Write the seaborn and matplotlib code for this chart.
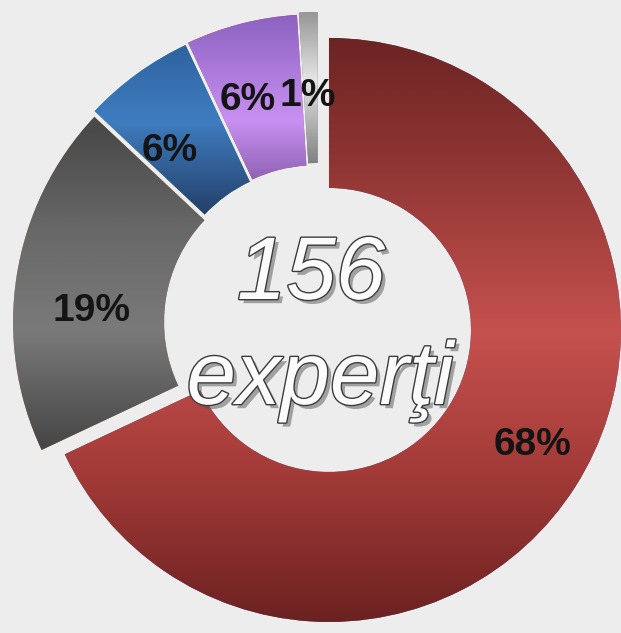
import matplotlib
matplotlib.use('Agg')
import matplotlib.pyplot as plt
import matplotlib.patheffects as pe
from matplotlib.colors import LinearSegmentedColormap
import numpy as np
import seaborn as sns

# values
shares = [68, 19, 6, 6, 1]
labels = ['68%', '19%', '6%', '6%', '1%']
total_text = '156'
unit_text = 'experţi'

# vertical colour ramps for each slice (image pixel row, colour)
ramps = [
    [(30, '#6a2322'), (160, '#8e3533'), (330, '#c5514e'), (470, '#a43b38'), (630, '#692020')],
    [(130, '#4a4a4a'), (230, '#686868'), (330, '#7a7a7a'), (470, '#3c3c3c')],
    [(45, '#2f62a0'), (120, '#3f7dc0'), (215, '#233f68')],
    [(15, '#8c62c0'), (120, '#c890f2'), (180, '#8e62b4')],
    [(15, '#9a9a9a'), (80, '#e6e6e6'), (165, '#7e7e7e')],
]
explode_px = [13, 5, 8, 9, 11]
label_r = [0.80, 0.74, 0.73, 0.75, 0.72]
label_turn = [3, 6, 5, 3.2, 0.8]

W, H = 621, 633
R = 300          # outer radius of the small slices
RING = 151
R_BIG = 292      # the exploded red slice is drawn a bit smaller
RING_BIG = 150
cx, cy = 318, H - 323
BG = '#ededed'

sns.set_theme(style='white')
plt.rcParams['font.family'] = ['Liberation Sans', 'DejaVu Sans']

fig = plt.figure(figsize=(W / 100, H / 100), dpi=100, facecolor=BG)
ax = fig.add_axes([0, 0, 1, 1])
ax.set_facecolor(BG)

# explode is an absolute offset in data units
wedges, _ = ax.pie(shares, radius=R, center=(cx, cy), startangle=90,
                   counterclock=False, explode=explode_px,
                   wedgeprops=dict(width=RING, linewidth=0))
wedges[0].set_radius(R_BIG)
wedges[0].set_width(RING_BIG)

# gradient fill clipped to every wedge
rows_px = np.arange(H)
for wedge, ramp in zip(wedges, ramps):
    rows = [p for p, c in ramp]
    cols = [c for p, c in ramp]
    span = rows[-1] - rows[0]
    cmap = LinearSegmentedColormap.from_list(
        'ramp', [((r - rows[0]) / span, c) for r, c in zip(rows, cols)])
    vals = np.clip((rows_px - rows[0]) / span, 0, 1)[:, None]
    im = ax.imshow(vals, cmap=cmap, vmin=0, vmax=1, extent=(0, W, 0, H),
                   origin='upper', aspect='auto', interpolation='bilinear', zorder=2)
    im.set_clip_path(wedge)

for wedge, lab, r, turn in zip(wedges, labels, label_r, label_turn):
    ang = np.deg2rad((wedge.theta1 + wedge.theta2) / 2 + turn)
    x = wedge.center[0] + r * wedge.r * np.cos(ang)
    y = wedge.center[1] + r * wedge.r * np.sin(ang)
    ax.text(x, y, lab, ha='center', va='center', fontsize=28,
            fontweight='bold', color='#141414', zorder=5)

fx = [pe.SimplePatchShadow(offset=(3, -3), shadow_rgbFace='#555555', alpha=0.5),
      pe.Stroke(linewidth=2.0, foreground='#3c3c3c'), pe.Normal()]
ax.text(cx - 7, cy + 24, total_text, ha='center', va='baseline',
        fontsize=64, style='italic', color='#fbfbfb', path_effects=fx, zorder=6)
ax.text(cx + 2, cy - 81, unit_text, ha='center', va='baseline',
        fontsize=64, style='italic', color='#fbfbfb', path_effects=fx, zorder=6)

ax.set_aspect('auto')
ax.set_xlim(0, W)
ax.set_ylim(0, H)
ax.axis('off')

fig.savefig('out.png', dpi=100, facecolor=BG)
